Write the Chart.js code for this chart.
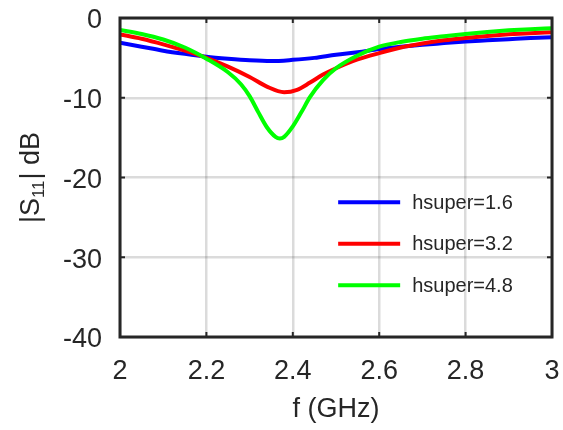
<!DOCTYPE html>
<html>
<head>
<meta charset="utf-8">
<script src="https://cdn.jsdelivr.net/npm/chart.js@4"></script>
<style>
  html, body { margin: 0; padding: 0; background: #fff; }
  #wrap { width: 563px; height: 430px; }
</style>
</head>
<body>
<div id="wrap"><canvas id="c" width="563" height="430"></canvas></div>
<script>
// frequency (GHz) and |S11| (dB)
const freqBlue = [2.00, 2.05, 2.10, 2.15, 2.20, 2.25, 2.30, 2.35, 2.40, 2.45, 2.50, 2.55, 2.60, 2.65, 2.70, 2.75, 2.80, 2.85, 2.90, 2.95, 3.00];
const s11Blue  = [-3.1, -3.6, -4.1, -4.5, -4.85, -5.1, -5.3, -5.4, -5.25, -5.0, -4.6, -4.3, -3.9, -3.6, -3.35, -3.15, -2.95, -2.8, -2.65, -2.5, -2.4];

const freqRed = [2.00, 2.05, 2.10, 2.15, 2.20, 2.25, 2.30, 2.34, 2.38, 2.41, 2.44, 2.47, 2.50, 2.55, 2.60, 2.65, 2.70, 2.75, 2.80, 2.85, 2.90, 2.95, 3.00];
const s11Red  = [-2.05, -2.6, -3.3, -4.1, -5.0, -6.1, -7.4, -8.6, -9.3, -9.0, -8.1, -7.1, -6.3, -5.2, -4.4, -3.7, -3.2, -2.8, -2.5, -2.25, -2.05, -1.9, -1.8];

const freqGreen = [2.00, 2.05, 2.10, 2.15, 2.20, 2.25, 2.28, 2.30, 2.32, 2.34, 2.36, 2.37, 2.38, 2.40, 2.42, 2.44, 2.47, 2.50, 2.55, 2.60, 2.65, 2.70, 2.75, 2.80, 2.85, 2.90, 2.95, 3.00];
const s11Green  = [-1.5, -2.0, -2.7, -3.7, -5.1, -6.8, -8.3, -9.8, -11.8, -13.7, -14.9, -15.1, -14.9, -13.6, -11.8, -9.9, -7.8, -6.3, -4.7, -3.6, -3.0, -2.6, -2.3, -2.0, -1.75, -1.55, -1.4, -1.3];

const seriesLabels = ["hsuper=1.6", "hsuper=3.2", "hsuper=4.8"];
const seriesColors = ["#0000ff", "#ff0000", "#00ff00"];

const xTicks = [2, 2.2, 2.4, 2.6, 2.8, 3];
const yTicks = [0, -10, -20, -30, -40];

const FONT = "'Liberation Sans', Arial, Helvetica, sans-serif";
const INK = "#262626";

const toPoints = (xs, ys) => xs.map((x, i) => ({ x: x, y: ys[i] }));

// frame, inward ticks, y title with subscript, legend inside the plot
const decorPlugin = {
    id: "decor",
    afterDatasetsDraw(chart) {
        const ctx = chart.ctx;
        const a = chart.chartArea;
        const xs = chart.scales.x;
        const ys = chart.scales.y;
        ctx.save();

        // inward tick marks
        ctx.strokeStyle = INK;
        ctx.lineWidth = 2;
        ctx.beginPath();
        xTicks.forEach(v => {
            const px = xs.getPixelForValue(v);
            ctx.moveTo(px, a.bottom); ctx.lineTo(px, a.bottom - 5);
            ctx.moveTo(px, a.top); ctx.lineTo(px, a.top + 5);
        });
        yTicks.forEach(v => {
            const py = ys.getPixelForValue(v);
            ctx.moveTo(a.left, py); ctx.lineTo(a.left + 5, py);
            ctx.moveTo(a.right, py); ctx.lineTo(a.right - 5, py);
        });
        ctx.stroke();

        // box
        ctx.lineWidth = 3;
        ctx.strokeRect(a.left, a.top, a.right - a.left, a.bottom - a.top);

        // legend
        ctx.font = "20px " + FONT;
        ctx.textBaseline = "middle";
        ctx.textAlign = "left";
        const lx = xs.getPixelForValue(2.505);
        const ly0 = ys.getPixelForValue(-23.1);
        const step = ys.getPixelForValue(-5.2) - ys.getPixelForValue(0);
        seriesLabels.forEach((lab, i) => {
            const y = ly0 + i * step;
            ctx.strokeStyle = seriesColors[i];
            ctx.lineWidth = 4;
            ctx.beginPath();
            ctx.moveTo(lx, y);
            ctx.lineTo(lx + 62, y);
            ctx.stroke();
            ctx.fillStyle = INK;
            ctx.fillText(lab, lx + 74, y + 1);
        });

        // y axis title: |S11| dB
        ctx.translate(32, (a.top + a.bottom) / 2);
        ctx.rotate(-Math.PI / 2);
        ctx.fillStyle = INK;
        const big = "27px " + FONT, small = "17px " + FONT;
        ctx.font = big;
        const w1 = ctx.measureText("|S").width;
        const w3 = ctx.measureText("| dB").width;
        ctx.font = small;
        const w2 = ctx.measureText("11").width + 1;
        let x = -(w1 + w2 + w3) / 2;
        ctx.textAlign = "left";
        ctx.textBaseline = "middle";
        ctx.font = big;
        ctx.fillText("|S", x, 0);
        x += w1;
        ctx.font = small;
        ctx.fillText("11", x, 7);
        x += w2;
        ctx.font = big;
        ctx.fillText("| dB", x, 0);

        ctx.restore();
    }
};

const ctx = document.getElementById("c").getContext("2d");
new Chart(ctx, {
    type: "line",
    data: {
        datasets: [
            { label: seriesLabels[0], data: toPoints(freqBlue, s11Blue), borderColor: seriesColors[0], order: 3 },
            { label: seriesLabels[1], data: toPoints(freqRed, s11Red), borderColor: seriesColors[1], order: 2 },
            { label: seriesLabels[2], data: toPoints(freqGreen, s11Green), borderColor: seriesColors[2], order: 1 },
        ],
    },
    options: {
        responsive: false,
        animation: false,
        events: [],
        elements: {
            line: { borderWidth: 4, cubicInterpolationMode: "monotone", fill: false },
            point: { radius: 0 },
        },
        layout: {
            autoPadding: false,
            padding: { left: 0, top: 18, right: 11, bottom: 0 },
        },
        plugins: {
            legend: { display: false },
            tooltip: { enabled: false },
        },
        scales: {
            x: {
                type: "linear",
                min: 2,
                max: 3,
                afterFit: s => { s.height = 93; s.paddingLeft = 0; s.paddingRight = 0; },
                afterBuildTicks: s => { s.ticks = xTicks.map(v => ({ value: v })); },
                grid: { color: "rgba(0,0,0,0.14)", lineWidth: 2.5, drawTicks: false },
                border: { display: false },
                ticks: {
                    padding: 18,
                    color: INK,
                    font: { family: FONT, size: 27 },
                    maxRotation: 0,
                    callback: v => String(Number(v.toFixed(1))),
                },
                title: {
                    display: true,
                    text: "f (GHz)",
                    color: INK,
                    font: { family: FONT, size: 27 },
                    padding: { top: 0, bottom: 4 },
                },
            },
            y: {
                min: -40,
                max: 0,
                afterFit: s => { s.width = 120; s.paddingTop = 0; s.paddingBottom = 0; },
                afterBuildTicks: s => { s.ticks = yTicks.map(v => ({ value: v })); },
                grid: { color: "rgba(0,0,0,0.14)", lineWidth: 2.5, drawTicks: false },
                border: { display: false },
                ticks: {
                    padding: 18,
                    labelOffset: 3,
                    color: INK,
                    font: { family: FONT, size: 27 },
                },
            },
        },
    },
    plugins: [decorPlugin],
});
</script>
</body>
</html>
